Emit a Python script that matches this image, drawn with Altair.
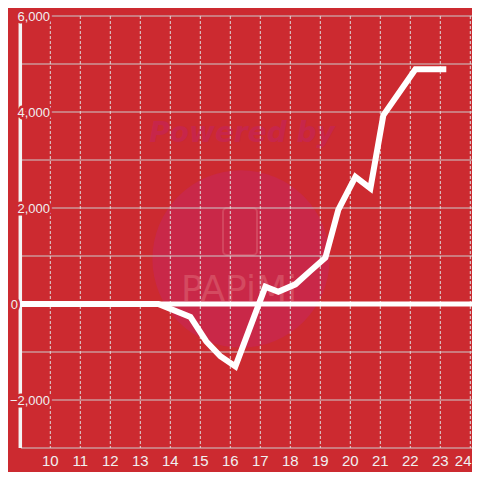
import altair as alt
import pandas as pd

# ---- data ----
hours = [9.0, 13.6, 14.67, 15.2, 15.67, 16.17, 17.17, 17.6, 18.17, 18.67,
         19.17, 19.6, 20.17, 20.67, 21.1, 22.17, 23.2]
values = [0, 0, -270, -780, -1090, -1300, 360, 255, 410, 690,
          965, 1960, 2650, 2410, 3930, 4890, 4890]
x_ticks = list(range(10, 25))
y_grid = [-3000, -2000, -1000, 0, 1000, 2000, 3000, 4000, 5000, 6000]
y_labels = [-2000, 2000, 4000, 6000]
zero_label = [0]

BG = "#CC2A30"
FONT = "Liberation Sans"
LABEL = "#f0f0f0"

line_df = pd.DataFrame({"h": hours, "v": values})
xg_df = pd.DataFrame({"h": x_ticks})
yg_df = pd.DataFrame({"v": y_grid})
yl_df = pd.DataFrame({"v": y_labels})
zl_df = pd.DataFrame({"v": zero_label})

W, H = 464, 432
xscale = alt.Scale(domain=[8.59, 8.59 + W / 30.0], nice=False, zero=False)
yscale = alt.Scale(domain=[-3000, 6000], nice=False, zero=False)

X = alt.X("h:Q", scale=xscale,
          axis=alt.Axis(labels=False, ticks=False, domain=False, grid=False,
                        title=None))
Y = alt.Y("v:Q", scale=yscale, axis=None)

one = pd.DataFrame({"a": [0]})

# watermark
circle = alt.Chart(one).mark_circle(color="#C92848", opacity=1, size=31400).encode(
    x=alt.value(233), y=alt.value(243))
powered = alt.Chart(one).mark_text(
    text="Powered by", font="DejaVu Sans", fontSize=28, fontWeight="bold",
    fontStyle="italic", color="#C7264A", align="center", baseline="middle"
).encode(x=alt.value(234), y=alt.value(118))
phone = alt.Chart(one).mark_rect(
    filled=False, stroke="#D2465E", strokeWidth=2, cornerRadius=4
).encode(x=alt.value(215), x2=alt.value(249), y=alt.value(192), y2=alt.value(239))
papimi = alt.Chart(one).mark_text(
    text="PAPiMi", font="DejaVu Sans", fontSize=36, fontWeight="normal",
    color="#D44A60", align="center", baseline="middle"
).encode(x=alt.value(231), y=alt.value(274))

# grid
hgrid = alt.Chart(yg_df).mark_rule(color="#cccccc", strokeWidth=1).encode(
    y=Y, x=alt.value(13), x2=alt.value(W))
vgrid = alt.Chart(xg_df).mark_rule(color="#dddddd", strokeWidth=1,
                                   strokeDash=[3, 2]).encode(
    x=X, y=alt.value(0), y2=alt.value(H))

zero_rule = alt.Chart(zl_df).mark_rule(color="white", strokeWidth=5).encode(
    y=Y, x=alt.value(9), x2=alt.value(W))
yaxis_rule = alt.Chart(pd.DataFrame({"h": [9.0], "v": [6000], "v2": [-3000]})).mark_rule(
    color="#f4f4f4", strokeWidth=3.5).encode(x="h:Q", y=Y, y2="v2:Q")

# x labels
xlab_mid = alt.Chart(xg_df).transform_filter("datum.h < 24").mark_text(
    font=FONT, fontSize=15, color=LABEL, align="center", baseline="middle"
).encode(x=X, y=alt.value(H + 13), text=alt.Text("h:Q", format="d"))
xlab_end = alt.Chart(xg_df).transform_filter("datum.h >= 24").mark_text(
    font=FONT, fontSize=15, color=LABEL, align="right", baseline="middle"
).encode(x=alt.value(W - 0.5), y=alt.value(H + 13), text=alt.Text("h:Q", format="d"))

# y labels with knockout
def ylab(df, xpos, knock):
    kw = dict(font=FONT, fontSize=13, align="right", baseline="middle", dy=1)
    if knock:
        m = alt.Chart(df).mark_text(stroke=BG, strokeWidth=5, color=BG,
                                    strokeJoin="round", **kw)
    else:
        m = alt.Chart(df).mark_text(color=LABEL, **kw)
    return m.encode(y=Y, x=alt.value(xpos), text=alt.Text("v:Q", format=","))

labels = [ylab(yl_df, 42, True), ylab(zl_df, 10, True),
          ylab(yl_df, 42, False), ylab(zl_df, 10, False)]

line = alt.Chart(line_df).mark_line(color="white", strokeWidth=6,
                                    strokeJoin="miter", strokeCap="butt").encode(
    x=X, y=Y)

chart = alt.layer(
    circle, powered, phone, papimi, hgrid, vgrid, zero_rule, yaxis_rule,
    xlab_mid, xlab_end, *labels, line
).properties(
    width=W, height=H,
    autosize=alt.AutoSizeParams(type="none"),
    padding={"left": 0, "right": 0, "top": 8, "bottom": 24},
    background=BG,
).configure_view(stroke=None)

chart.save("out.html", embed_options={"renderer": "svg", "actions": False})
